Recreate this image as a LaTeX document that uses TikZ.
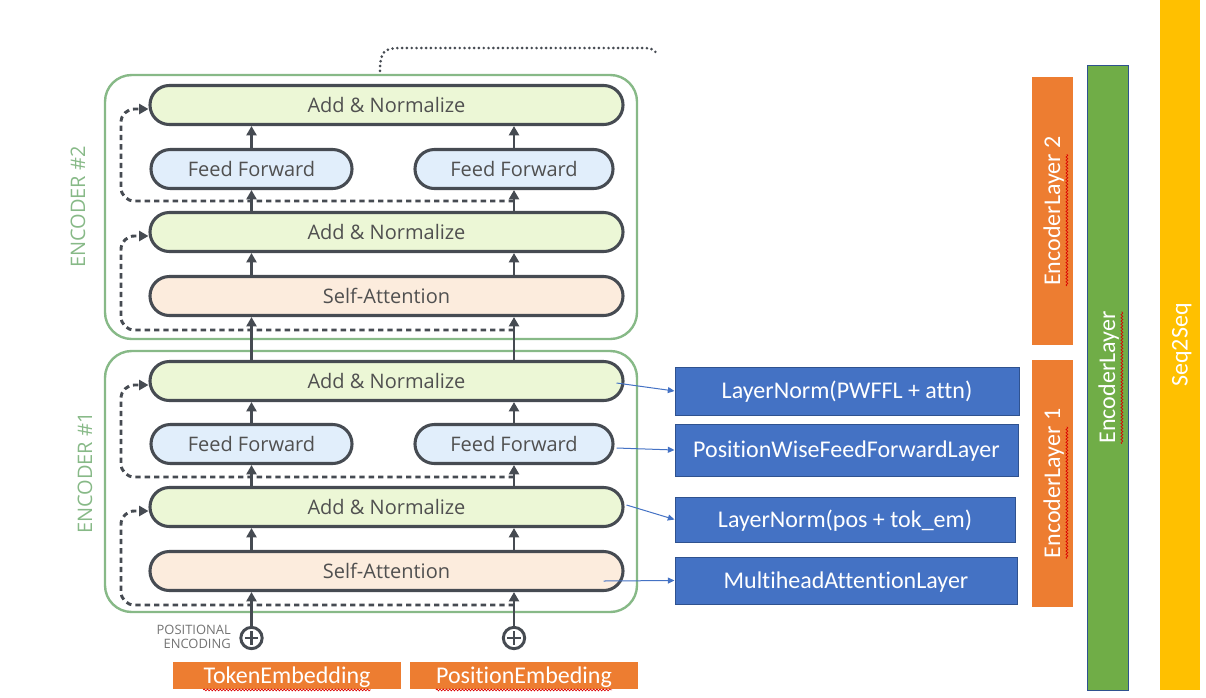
\documentclass[tikz,border=0pt]{standalone}
\usepackage{fontspec}
\setmainfont{Carlito}[Ligatures=NoCommon]
\newfontfamily\osans{Open Sans}
\usetikzlibrary{arrows.meta,calc,decorations.pathmorphing}

\definecolor{boxline}{RGB}{70,75,82}
\definecolor{anfill}{RGB}{236,247,214}
\definecolor{fffill}{RGB}{225,238,251}
\definecolor{safill}{RGB}{252,236,221}
\definecolor{encgreen}{RGB}{135,185,135}
\definecolor{txtgray}{RGB}{80,80,80}
\definecolor{msblue}{RGB}{68,114,196}
\definecolor{msblueline}{RGB}{47,82,143}
\definecolor{msorange}{RGB}{237,125,49}
\definecolor{msgreen}{RGB}{112,173,71}
\definecolor{msyellow}{RGB}{255,192,0}

\newlength\wEL

\begin{document}
\settowidth{\wEL}{\fontsize{18}{21}\selectfont EncoderLayer}%
\begin{tikzpicture}[x=0.75pt,y=-0.75pt,
  layer/.style={draw=boxline, line width=2.3pt, rounded corners=14.5pt,
    minimum height=29.25pt, inner sep=0pt, text=txtgray,
    font=\osans\fontsize{15}{18}\selectfont, text height=10.7pt, text depth=0pt},
  an/.style={layer, fill=anfill, minimum width=354.75pt},
  sa/.style={layer, fill=safill, minimum width=354.75pt},
  ff/.style={layer, fill=fffill, minimum width=#1},
  container/.style={draw=encgreen, line width=1.8pt, rounded corners=20pt,
    minimum width=399pt, inner sep=0pt},
  enclabel/.style={rotate=90, text=encgreen, font=\osans\fontsize{15}{18}\selectfont},
  arr/.style={draw=boxline, line width=2.2pt, -{Triangle[width=7.5pt,length=7pt]}},
  res/.style={draw=boxline, line width=2.2pt, dash pattern=on 4pt off 3pt,
    rounded corners=10pt, -{Triangle[width=7.5pt,length=7pt]}},
  dots/.style={draw=boxline, line width=2.2pt, dash pattern=on 0pt off 3.6pt, line cap=round},
  plus/.style={circle, draw=boxline, fill=white, line width=2.2pt, minimum size=16pt,
    inner sep=0pt, path picture={
      \draw[boxline, line width=1.9pt]
        ([yshift=-5pt]path picture bounding box.center) -- ([yshift=5pt]path picture bounding box.center)
        ([xshift=-5pt]path picture bounding box.center) -- ([xshift=5pt]path picture bounding box.center);}},
  calibri/.style={text=white, inner sep=0pt, font=\fontsize{18}{21}\selectfont,
    text height=11.6pt, text depth=0pt},
  bluebox/.style={calibri, fill=msblue, draw=msblueline, line width=0.75pt},
  link/.style={draw=msblue, line width=0.75pt, -{Triangle[length=5pt,width=4.5pt]}},
  orangebox/.style={fill=msorange, minimum width=171pt, minimum height=20.25pt, inner sep=0pt},
  bar/.style={rotate=90, minimum height=30.75pt, inner sep=0pt},
  squiggle/.style={draw=red!85!black, line width=0.5pt, decorate,
    decoration={snake, amplitude=0.7pt, segment length=2.4pt}}
]
\useasboundingbox (0,0) rectangle (1206,697);

% encoder containers and their labels
\node[container, minimum height=198pt] (enc2) at (371,207) {};
\node[container, minimum height=195.75pt] (enc1) at (371,481.5) {};
\node[enclabel] (lab2) at (78,207) {ENCODER \#2};
\node[enclabel] (lab1) at (85,473) {ENCODER \#1};

% encoder #2 sublayers
\node[an] (an2) at (386.5,105) {Add \& Normalize};
\node[ff=150.75pt] (ffL2) at (251.5,169) {Feed Forward};
\node[ff=148.5pt] (ffR2) at (514,169) {Feed Forward};
\node[an] (anb2) at (386.5,232) {Add \& Normalize};
\node[sa] (sa2) at (386.5,296) {Self-Attention};

% encoder #1 sublayers
\node[an] (an1) at (386.5,381) {Add \& Normalize};
\node[ff=150.75pt] (ffL1) at (251.5,444) {Feed Forward};
\node[ff=148.5pt] (ffR1) at (514,444) {Feed Forward};
\node[an] (anb1) at (386.5,507) {Add \& Normalize};
\node[sa] (sa1) at (386.5,571) {Self-Attention};

% positional encoding sums
\node[plus] (pL) at (251.5,638) {};
\node[plus] (pR) at (514,638) {};
\node[anchor=east, align=right, text=black!55, inner sep=0pt,
  font=\osans\fontsize{9.7}{10}\selectfont] (posenc) at (231,637) {POSITIONAL\\ENCODING};

% residual connections
\coordinate (r2lo) at (514,330);
\coordinate (r2hi) at (514,201);
\coordinate (r1lo) at (514,605);
\coordinate (r1hi) at (514,477);
\draw[res] (r2lo) -- (121,330) -- (121,236) -- ([yshift=-3pt]anb2.west);
\draw[res] (r2hi) -- (121,201) -- (121,109) -- ([yshift=-3pt]an2.west);
\draw[res] (r1lo) -- (121,605) -- (121,511) -- ([yshift=-3pt]anb1.west);
\draw[res] (r1hi) -- (121,477) -- (121,385) -- ([yshift=-3pt]an1.west);

% data flow, left column
\draw[arr] (pL) -- (sa1.south -| pL);
\draw[arr] (sa1.north -| pL) -- (anb1.south -| pL);
\draw[arr] (anb1.north -| pL) -- (ffL1);
\draw[arr] (ffL1) -- (an1.south -| pL);
\draw[arr] (an1.north -| pL) -- (sa2.south -| pL);
\draw[arr] (sa2.north -| pL) -- (anb2.south -| pL);
\draw[arr] (anb2.north -| pL) -- (ffL2);
\draw[arr] (ffL2) -- (an2.south -| pL);

% data flow, right column
\draw[arr] (pR) -- (sa1.south -| pR);
\draw[arr] (sa1.north -| pR) -- (anb1.south -| pR);
\draw[arr] (anb1.north -| pR) -- (ffR1);
\draw[arr] (ffR1) -- (an1.south -| pR);
\draw[arr] (an1.north -| pR) -- (sa2.south -| pR);
\draw[arr] (sa2.north -| pR) -- (anb2.south -| pR);
\draw[arr] (anb2.north -| pR) -- (ffR2);
\draw[arr] (ffR2) -- (an2.south -| pR);

% output towards the decoder
\coordinate (dStart) at ($(enc2.north)+(9,-3)$);
\coordinate (dEnd) at (657,56);
\draw[dots] (dStart) .. controls (380,52) and (384,48) .. (400,48) -- (645,48)
  .. controls (652,48) and (656,50) .. (dEnd);

% code-level names of the sublayers
\node[bluebox, minimum width=258pt, minimum height=36pt] (ln1) at (847,391) {LayerNorm(PWFFL + attn)};
\node[bluebox, minimum width=257.25pt, minimum height=39pt] (pw) at (846.5,450) {PositionWiseFeedForwardLayer};
\node[bluebox, minimum width=255pt, minimum height=33.75pt] (ln2) at (845,519.5) {LayerNorm(pos + tok\_em)};
\node[bluebox, minimum width=256.5pt, minimum height=35.25pt] (mh) at (846,580.5) {MultiheadAttentionLayer};

\draw[link] ($(an1.east)+(-8,2)$) -- (ln1.west);
\draw[link] ($(ffR1.east)+(2,4)$) -- (pw.west);
\draw[link] ($(anb1.east)+(2,-2)$) -- (ln2.west);
\draw[link] ($(sa1.east)+(-21,10)$) -- (mh.west);

% embeddings
\node[orangebox] (tok) at (287,675.5) {};
\node[orangebox] (pos) at (524,675.5) {};
\node[calibri] (tokt) at (tok.center) {TokenEmbedding};
\node[calibri] (post) at (pos.center) {PositionEmbeding};
\draw[squiggle] ([yshift=-5pt]tokt.base west) -- ([yshift=-5pt]tokt.base east);
\draw[squiggle] ([yshift=-5pt]post.base west) -- ([yshift=-5pt]post.base east);

% module hierarchy bars
\node[bar, fill=msorange, minimum width=201pt] (el2) at (1052.5,211) {};
\node[bar, fill=msorange, minimum width=185.25pt] (el1) at (1052.5,483.5) {};
\node[bar, fill=msgreen, draw=msblueline, line width=0.75pt, minimum width=468.75pt] (encbar) at (1107.5,377.5) {};
\node[bar, fill=msyellow, minimum width=517.5pt, minimum height=30pt] (s2s) at (1180,345) {};
\node[calibri, rotate=90] (el2t) at (el2.center) {EncoderLayer 2};
\node[calibri, rotate=90] (el1t) at (el1.center) {EncoderLayer 1};
\node[calibri, rotate=90] (enct) at (encbar.center) {EncoderLayer};
\node[calibri, rotate=90] (s2st) at (s2s.center) {Seq2Seq};

% spell-check marks under the class names
\coordinate (el2e) at ($(el2t.base west)!\wEL!(el2t.base east)$);
\coordinate (el1e) at ($(el1t.base west)!\wEL!(el1t.base east)$);
\draw[squiggle] ([xshift=5pt]el2t.base west) -- ([xshift=5pt]el2e);
\draw[squiggle] ([xshift=5pt]el1t.base west) -- ([xshift=5pt]el1e);
\draw[squiggle] ([xshift=5pt]enct.base west) -- ([xshift=5pt]enct.base east);
\end{tikzpicture}
\end{document}
